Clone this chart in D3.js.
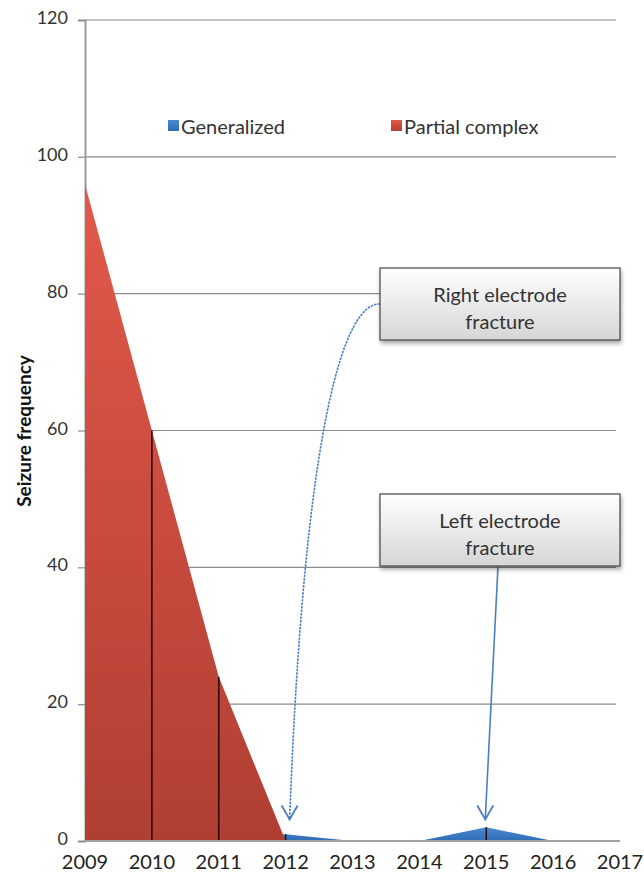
<!DOCTYPE html>
<html><head><meta charset="utf-8">
<script src="https://cdn.jsdelivr.net/npm/d3@7"></script>
<style>body{margin:0;background:#fff;} text{font-family:Lato,"Open Sans",sans-serif;}</style>
</head><body><svg id="c" width="644" height="876"></svg>
<script>
const years = [2009,2010,2011,2012,2013,2014,2015,2016,2017];
const partialComplex = [96,60,24,0,null,null,null,null,null];
const generalized = [0,0,0,1,0,0,2,0,0];
const yTicks = [0,20,40,60,80,100,120];
const seriesNames = ["Generalized","Partial complex"];
const annotations = [
  {lines:["Right electrode","fracture"], year:2012},
  {lines:["Left electrode","fracture"], year:2015}
];

const svg = d3.select("#c");
const m = {l:85, r:620, t:20, b:841};
const x = d3.scaleLinear().domain([2009,2017]).range([m.l, m.r]);
const y = d3.scaleLinear().domain([0,120]).range([m.b, m.t]);

const defs = svg.append("defs");
const gr = defs.append("linearGradient").attr("id","gRed").attr("x1",0).attr("y1",0).attr("x2",0).attr("y2",1);
gr.append("stop").attr("offset","0%").attr("stop-color","#e2594b");
gr.append("stop").attr("offset","100%").attr("stop-color","#b03f33");
const gb = defs.append("linearGradient").attr("id","gBlue").attr("x1",0).attr("y1",0).attr("x2",0).attr("y2",1);
gb.append("stop").attr("offset","0%").attr("stop-color","#4a8ad4");
gb.append("stop").attr("offset","100%").attr("stop-color","#2f6cb3");
const gbox = defs.append("linearGradient").attr("id","gBox").attr("x1",0).attr("y1",0).attr("x2",0).attr("y2",1);
gbox.append("stop").attr("offset","0%").attr("stop-color","#ffffff");
gbox.append("stop").attr("offset","100%").attr("stop-color","#d6d6d6");
const f = defs.append("filter").attr("id","sh").attr("x","-10%").attr("y","-10%").attr("width","130%").attr("height","140%");
f.append("feDropShadow").attr("dx",1).attr("dy",3).attr("stdDeviation",2).attr("flood-color","#000").attr("flood-opacity",0.35);

// gridlines
svg.append("g").selectAll("line").data(yTicks.filter(d=>d>0)).join("line")
  .attr("x1",m.l).attr("x2",m.r-4).attr("y1",d=>y(d)).attr("y2",d=>y(d))
  .attr("stroke","#8c8c8c").attr("stroke-width",1.2);

// y axis
const ya = svg.append("g").attr("transform",`translate(${m.l},0)`)
  .call(d3.axisLeft(y).tickValues(yTicks).tickSize(7).tickPadding(10));
ya.select(".domain").attr("stroke","#9a9a9a").attr("stroke-width",2);
ya.selectAll(".tick line").attr("stroke","#8c8c8c").attr("stroke-width",1.2);
ya.selectAll("text").attr("font-size",18).attr("fill","#333").attr("font-family","Lato, sans-serif").attr("dy","0.2em");

// areas
const pcData = years.map((d,i)=>({x:d,v:partialComplex[i]})).filter(d=>d.v!==null);
const genData = years.map((d,i)=>({x:d,v:generalized[i]}));
const area = d3.area().x(d=>x(d.x)).y0(y(0)).y1(d=>y(d.v));
svg.append("path").datum(genData).attr("d",area).attr("fill","url(#gBlue)");
svg.append("path").datum(pcData).attr("d",area).attr("fill","url(#gRed)");

// drop lines
const drops = [];
pcData.forEach(d=>{ if(d.x!==years[0] && d.v>0) drops.push(d); });
genData.forEach(d=>{ if(d.v>0) drops.push(d); });
svg.append("g").selectAll("line").data(drops).join("line")
  .attr("x1",d=>x(d.x)).attr("x2",d=>x(d.x)).attr("y1",d=>y(d.v)).attr("y2",y(0))
  .attr("stroke","#2a0d0a").attr("stroke-width",1.6);

// x axis line
svg.append("line").attr("x1",m.l).attr("x2",m.r).attr("y1",y(0)).attr("y2",y(0))
  .attr("stroke","#a0a0a0").attr("stroke-width",2);
svg.append("g").selectAll("text").data(years).join("text")
  .attr("x",d=>x(d)).attr("y",869).attr("text-anchor","middle")
  .attr("font-size",20).attr("fill","#222").text(d=>d);

// y title
svg.append("text").attr("transform","translate(31,431) rotate(-90)")
  .attr("text-anchor","middle").attr("font-size",19).attr("font-weight","bold")
  .attr("fill","#111").text("Seizure frequency");

// legend
const lg = svg.append("g");
const legendItems = [{name:seriesNames[0],c:"url(#gBlue)",x:168},{name:seriesNames[1],c:"url(#gRed)",x:391}];
legendItems.forEach(it=>{
  lg.append("rect").attr("x",it.x).attr("y",120).attr("width",11).attr("height",11).attr("fill",it.c);
  lg.append("text").attr("x",it.x+13).attr("y",134).attr("font-size",20).attr("fill","#333").text(it.name);
});

// annotations
const boxes = [{y0:268},{y0:494}];
const arrowColor = "#4a7fc2";
annotations.forEach((a,i)=>{
  const bx=380, bw=240, bh=72, by=boxes[i].y0;
  const tipX = x(a.year)+ (i===0?4:-1), tipY = y(3)-1;
  let p = d3.path();
  if(i===0){
    p.moveTo(bx, by+36);
    p.bezierCurveTo(345, by+34, tipX+15, by+152, tipX, tipY);
  } else {
    p.moveTo(bx+118, by+bh);
    p.lineTo(tipX, tipY);
  }
  svg.append("path").attr("d",p.toString()).attr("fill","none").attr("stroke",arrowColor).attr("stroke-width",1.6)
    .attr("stroke-dasharray", i===0?"2.5,1":null);
  svg.append("path").attr("d",`M${tipX-8},${tipY-14} L${tipX},${tipY} L${tipX+8},${tipY-14}`)
    .attr("fill","none").attr("stroke",arrowColor).attr("stroke-width",1.8);
  const g = svg.append("g");
  g.append("rect").attr("x",bx).attr("y",by).attr("width",bw).attr("height",bh)
    .attr("fill","url(#gBox)").attr("stroke","#444").attr("stroke-width",1.2).attr("filter","url(#sh)");
  a.lines.forEach((t,j)=>{
    g.append("text").attr("x",bx+bw/2).attr("y",by+34+j*27).attr("text-anchor","middle")
      .attr("font-size",20).attr("fill","#333").text(t);
  });
});
</script></body></html>
